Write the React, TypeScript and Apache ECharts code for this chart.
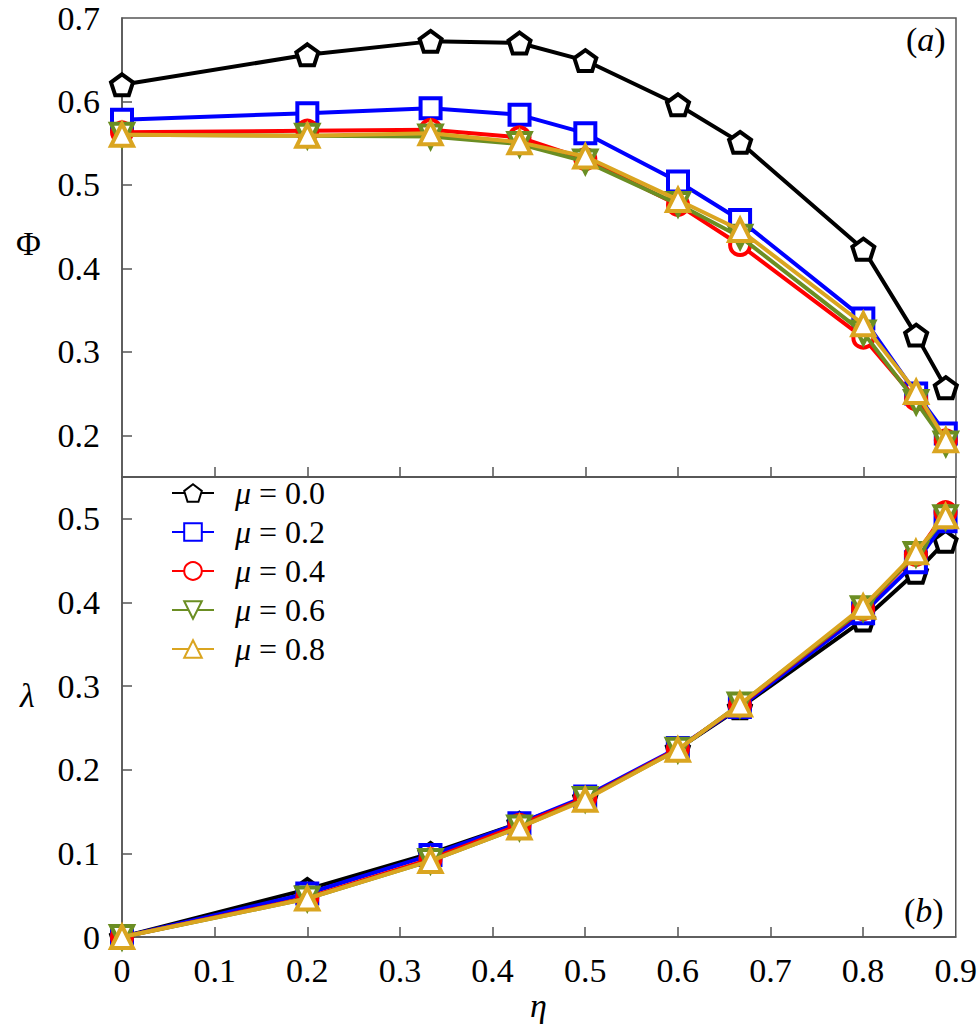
import React, { useEffect, useRef } from "react";
import * as echarts from "echarts";

const eta = [0, 0.2, 0.333, 0.429, 0.5, 0.6, 0.667, 0.8, 0.857, 0.889];
const muNames = ["0.0", "0.2", "0.4", "0.6", "0.8"];

// Panel (a): Phi
const phiMu00 = [0.62, 0.656, 0.672, 0.67, 0.649, 0.596, 0.551, 0.423, 0.32, 0.257];
const phiMu02 = [0.578, 0.586, 0.592, 0.584, 0.562, 0.504, 0.458, 0.34, 0.25, 0.202];
const phiMu04 = [0.563, 0.565, 0.566, 0.557, 0.531, 0.476, 0.428, 0.317, 0.243, 0.194];
const phiMu06 = [0.56, 0.559, 0.558, 0.549, 0.528, 0.477, 0.438, 0.323, 0.24, 0.19];
const phiMu08 = [0.56, 0.559, 0.562, 0.551, 0.534, 0.482, 0.446, 0.333, 0.252, 0.194];

// Panel (b): lambda
const lamMu00 = [0, 0.057, 0.1, 0.136, 0.166, 0.225, 0.274, 0.379, 0.436, 0.473];
const lamMu02 = [0, 0.052, 0.098, 0.136, 0.168, 0.226, 0.275, 0.387, 0.448, 0.497];
const lamMu04 = [0, 0.047, 0.093, 0.134, 0.166, 0.225, 0.277, 0.392, 0.457, 0.508];
const lamMu06 = [0, 0.046, 0.091, 0.131, 0.165, 0.224, 0.278, 0.393, 0.458, 0.502];
const lamMu08 = [0, 0.046, 0.091, 0.131, 0.164, 0.224, 0.278, 0.395, 0.46, 0.503];

const xTicks = [0.1, 0.2, 0.3, 0.4, 0.5, 0.6, 0.7, 0.8];
const xLabels = [0, 0.1, 0.2, 0.3, 0.4, 0.5, 0.6, 0.7, 0.8, 0.9];
const phiTicks = [0.2, 0.3, 0.4, 0.5, 0.6];
const phiLabels = [0.2, 0.3, 0.4, 0.5, 0.6, 0.7];
const lamTicks = [0.1, 0.2, 0.3, 0.4, 0.5];
const lamLabels = [0, 0.1, 0.2, 0.3, 0.4, 0.5];

const colors = ["#000000", "#0000ff", "#ff0000", "#6b8e23", "#daa520"];
const pentagon = "path://M10,0 L19.51,6.91 L15.88,18.09 L4.12,18.09 L0.49,6.91 Z";
const symbols = [pentagon, "rect", "circle", "triangle", "triangle"];
const symbolRotates = [0, 0, 0, 180, 0];
const symbolSizes = [22, 20, 20, 22, 22];

const FONT = '"Times New Roman", "Liberation Serif", "Nimbus Roman", "Noto Serif", "DejaVu Serif", Times, serif';
const fmt = (v: number) => (Math.abs(v) < 1e-9 ? "0" : v.toFixed(1));

export default function App() {
  const ref = useRef<HTMLDivElement>(null);
  useEffect(() => {
    const chart = echarts.init(ref.current!, null, { renderer: "svg" });
    const phiSets = [phiMu00, phiMu02, phiMu04, phiMu06, phiMu08];
    const lamSets = [lamMu00, lamMu02, lamMu04, lamMu06, lamMu08];
    const series: any[] = [];
    [0, 1].forEach((g) => {
      const sets = g === 0 ? phiSets : lamSets;
      sets.forEach((vals, i) => {
        series.push({
          type: "line",
          name: "μ = " + muNames[i],
          xAxisIndex: g,
          yAxisIndex: g,
          data: eta.map((x, k) => [x, vals[k]]),
          symbol: symbols[i],
          symbolRotate: symbolRotates[i],
          symbolSize: symbolSizes[i],
          symbolKeepAspect: true,
          showAllSymbol: true,
          clip: false,
          lineStyle: { color: colors[i], width: 4 },
          itemStyle: { color: "#ffffff", borderColor: colors[i], borderWidth: 4 },
          emphasis: { disabled: true },
          z: 2 + i,
        });
      });
    });
    const axisLineStyle = { lineStyle: { color: "#555", width: 1.5 } };
    const labelStyle = { fontFamily: FONT, fontSize: 34, color: "#000" };
    const xAxisBase = (gridIndex: number, showLabels: boolean) => ({
      type: "value",
      gridIndex,
      min: 0,
      max: 0.9,
      axisLine: { show: true, ...axisLineStyle },
      splitLine: { show: false },
      axisTick: {
        show: true,
        inside: true,
        length: 10,
        customValues: xTicks,
        lineStyle: { color: "#555", width: 1.5 },
      },
      axisLabel: {
        show: showLabels,
        customValues: xLabels,
        formatter: fmt,
        ...labelStyle,
        margin: 16,
      },
    });
    const yAxisBase = (gridIndex: number, min: number, max: number, ticks: number[], labels: number[]) => ({
      type: "value",
      gridIndex,
      min,
      max,
      axisLine: { show: true, ...axisLineStyle },
      splitLine: { show: false },
      axisTick: {
        show: true,
        inside: true,
        length: 10,
        customValues: ticks,
        lineStyle: { color: "#555", width: 1.5 },
      },
      axisLabel: {
        customValues: labels,
        formatter: fmt,
        ...labelStyle,
        margin: 22,
      },
    });
    chart.setOption({
      animation: false,
      backgroundColor: "#ffffff",
      textStyle: { fontFamily: FONT },
      grid: [
        { left: 122, width: 834, top: 18, height: 459, show: true, borderColor: "#555", borderWidth: 1.5, backgroundColor: "transparent" },
        { left: 122, width: 834, top: 477, height: 460, show: true, borderColor: "#555", borderWidth: 1.5, backgroundColor: "transparent" },
      ],
      xAxis: [xAxisBase(0, false), xAxisBase(1, true)],
      yAxis: [
        yAxisBase(0, 0.15, 0.7, phiTicks, phiLabels),
        yAxisBase(1, 0, 0.55, lamTicks, lamLabels),
      ],
      legend: {
        orient: "vertical",
        left: 166,
        top: 472,
        itemWidth: 42,
        itemHeight: 22,
        itemGap: 7,
        data: muNames.map((m) => "μ = " + m),
        formatter: (name: string) => "{i|μ}{n|" + name.slice(1) + "}",
        textStyle: {
          fontFamily: FONT,
          padding: [0, 0, 0, 16],
          rich: {
            i: { fontFamily: FONT, fontStyle: "italic", fontSize: 32, color: "#000", lineHeight: 36 },
            n: { fontFamily: FONT, fontSize: 32, color: "#000", lineHeight: 36 },
          },
        },
      },
      graphic: [
        { type: "text", left: 16, top: 226, style: { text: "Φ", font: `34px ${FONT}`, fill: "#000" } },
        { type: "text", left: 20, top: 678, style: { text: "λ", font: `italic 34px ${FONT}`, fill: "#000" } },
        { type: "text", left: 530, top: 988, style: { text: "η", font: `italic 34px ${FONT}`, fill: "#000" } },
        {
          type: "text",
          left: 906,
          top: 22,
          style: {
            text: "({i|a})",
            font: `34px ${FONT}`,
            fill: "#000",
            rich: { i: { fontFamily: FONT, fontStyle: "italic", fontSize: 34 } },
          },
        },
        {
          type: "text",
          left: 904,
          top: 893,
          style: {
            text: "({i|b})",
            font: `34px ${FONT}`,
            fill: "#000",
            rich: { i: { fontFamily: FONT, fontStyle: "italic", fontSize: 34 } },
          },
        },
      ],
      series,
    });
    return () => chart.dispose();
  }, []);
  return (
    <div
      ref={ref}
      style={{ position: "fixed", left: 0, top: 0, width: 980, height: 1031, background: "#fff" }}
    />
  );
}
